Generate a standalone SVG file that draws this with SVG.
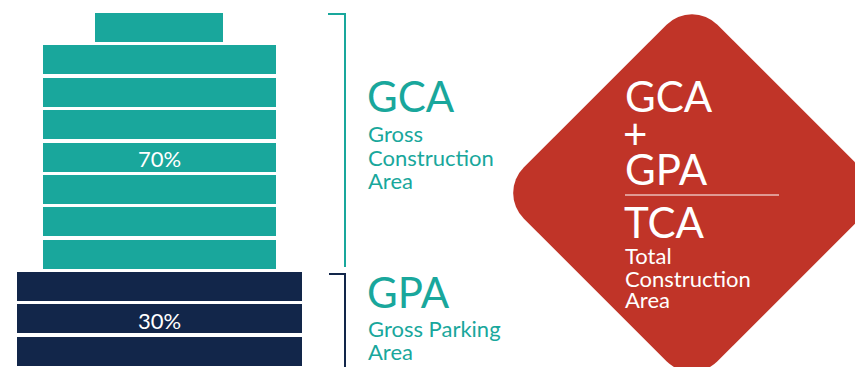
<svg xmlns="http://www.w3.org/2000/svg" width="855" height="367" viewBox="0 0 855 367">
  <style>
    .teal { fill: #19a79c; }
    .navy { fill: #12264a; }
    .pct { font-family: Lato, "Open Sans", sans-serif; font-size: 22px; fill: #ffffff; text-anchor: middle; }
    .lbl { font-family: Lato, "Open Sans", sans-serif; font-size: 22px; }
    .big { font-size: 42px; }
    .tealtxt { fill: #19a79c; }
    .white { fill: #ffffff; }
    .bracket { fill: none; stroke-width: 2; }
  </style>

  <!-- building: construction floors -->
  <g id="gca-floors">
    <rect class="teal" x="95" y="13" width="128" height="29"/>
    <rect class="teal" x="43" y="45" width="233" height="29"/>
    <rect class="teal" x="43" y="78" width="233" height="29"/>
    <rect class="teal" x="43" y="110" width="233" height="29"/>
    <rect class="teal" x="43" y="143" width="233" height="29"/>
    <rect class="teal" x="43" y="175" width="233" height="29"/>
    <rect class="teal" x="43" y="207" width="233" height="29"/>
    <rect class="teal" x="43" y="240" width="233" height="29"/>
    <text class="pct" x="159.5" y="167">70%</text>
  </g>

  <!-- building: parking floors -->
  <g id="gpa-floors">
    <rect class="navy" x="17" y="272" width="285" height="29"/>
    <rect class="navy" x="17" y="304" width="285" height="29"/>
    <rect class="navy" x="17" y="337" width="285" height="29"/>
    <text class="pct" x="159.5" y="329">30%</text>
  </g>

  <!-- brackets -->
  <g id="connectors">
    <polyline class="bracket" stroke="#19a79c" points="328,14 345,14 345,267"/>
    <polyline class="bracket" stroke="#12264a" points="329,274 345,274 345,367"/>
  </g>

  <!-- labels -->
  <g id="gca-label">
    <text class="lbl tealtxt">
      <tspan class="big" x="367" y="112">GCA</tspan>
      <tspan x="368" y="142">Gross</tspan>
      <tspan x="368" y="166">Construction</tspan>
      <tspan x="368" y="189">Area</tspan>
    </text>
  </g>

  <g id="gpa-label">
    <text class="lbl tealtxt">
      <tspan class="big" x="367" y="308">GPA</tspan>
      <tspan x="368" y="337">Gross Parking</tspan>
      <tspan x="368" y="360">Area</tspan>
    </text>
  </g>

  <!-- total diamond -->
  <g id="tca">
    <rect x="-137" y="-137" width="274" height="274" rx="36" ry="36" fill="#c03428" transform="translate(692,193) rotate(45)"/>
    <text class="lbl white">
      <tspan class="big" x="625" y="112">GCA</tspan>
      <tspan class="big" x="623" y="149">+</tspan>
      <tspan class="big" x="625" y="185">GPA</tspan>
    </text>
    <line x1="625" y1="195" x2="779" y2="195" stroke="#ffffff" stroke-width="1"/>
    <text class="lbl white">
      <tspan class="big" x="624" y="238">TCA</tspan>
      <tspan x="625" y="264">Total</tspan>
      <tspan x="625" y="287">Construction</tspan>
      <tspan x="625" y="308">Area</tspan>
    </text>
  </g>
</svg>
